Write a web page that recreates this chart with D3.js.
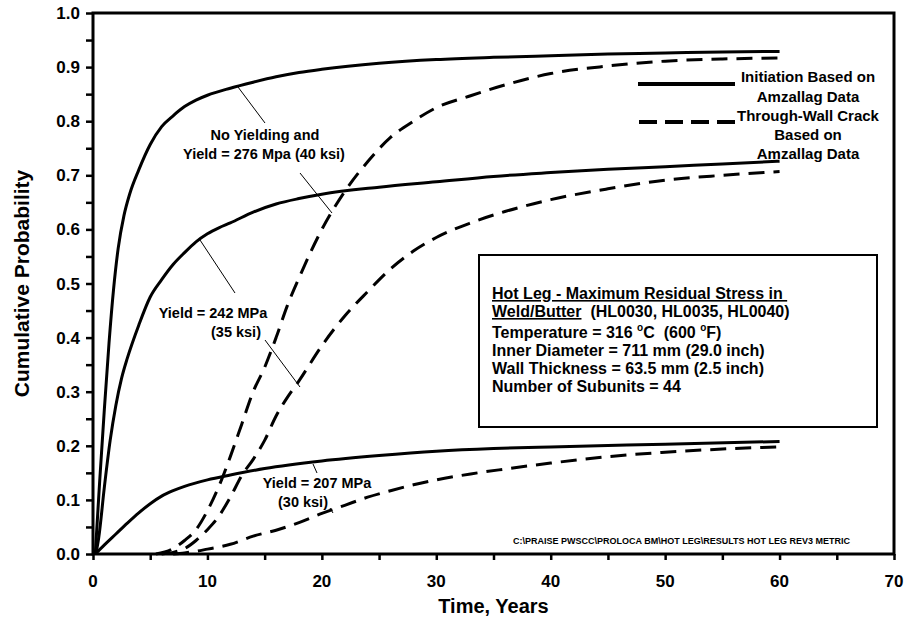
<!DOCTYPE html>
<html lang="en">
<head>
<meta charset="utf-8">
<title>Hot Leg - Cumulative Probability</title>
<style>
    body { margin: 0; background: #fff; }
    text { font-family: Arial, "Liberation Sans", sans-serif; font-weight: bold; fill: #000; }
    .label { font-size: 14.5px; }
    .legend { font-size: 15px; }
    .box { font-size: 16px; }
</style>
<script src="https://d3js.org/d3.v7.min.js"></script>
</head>
<body>
<svg width="904" height="628"></svg>
<script>
    // [years, cumulative probability]
    const initNoYield = [[0.2,0],[0.6,0.14],[1.0,0.27],[1.4,0.39],[1.8,0.49],[2.2,0.565],[2.7,0.625],[3.2,0.665],[4,0.71],[5,0.757],[6,0.79],[7,0.81],[8,0.827],[9,0.839],[10,0.848],[12,0.861],[14,0.872],[16,0.882],[18,0.89],[20,0.896],[25,0.907],[30,0.914],[35,0.918],[40,0.921],[45,0.924],[50,0.926],[55,0.928],[60,0.929]];
    const twcNoYield = [[5.5,0],[7,0.01],[8,0.025],[9,0.045],[10,0.08],[11,0.125],[12,0.18],[13,0.24],[14,0.3],[15,0.345],[16,0.4],[17,0.46],[18,0.51],[20,0.6],[22,0.67],[24,0.725],[26,0.77],[28,0.8],[30,0.825],[33,0.847],[36,0.867],[40,0.888],[45,0.902],[50,0.911],[55,0.915],[60,0.917]];
    const init242 = [[0.25,0],[0.5,0.03],[1,0.125],[1.5,0.21],[2,0.275],[2.5,0.325],[3,0.362],[4,0.423],[5,0.475],[6,0.507],[7,0.535],[8,0.557],[9,0.577],[10,0.592],[11,0.603],[12,0.612],[14,0.632],[16,0.647],[18,0.657],[20,0.665],[25,0.678],[30,0.688],[35,0.698],[40,0.705],[45,0.711],[50,0.716],[55,0.721],[60,0.726]];
    const twc242 = [[6,0],[7,0.003],[8,0.01],[9,0.025],[10,0.045],[11,0.07],[12,0.105],[13,0.145],[14,0.175],[15,0.21],[16,0.255],[17,0.29],[18,0.32],[20,0.385],[22,0.44],[24,0.485],[26,0.527],[28,0.56],[30,0.585],[33,0.612],[36,0.633],[40,0.655],[45,0.675],[50,0.691],[55,0.7],[60,0.707]];
    const init207 = [[0.2,0],[1,0.017],[2,0.037],[3,0.057],[4,0.076],[5,0.093],[6,0.107],[7,0.117],[8,0.125],[10,0.137],[12,0.146],[15,0.158],[20,0.172],[25,0.182],[30,0.19],[35,0.195],[40,0.198],[50,0.203],[60,0.208]];
    const twc207 = [[7,0],[8,0.002],[9,0.005],[10,0.009],[11,0.013],[12,0.018],[14,0.033],[16,0.044],[18,0.058],[20,0.075],[22,0.09],[24,0.105],[26,0.117],[28,0.128],[30,0.137],[33,0.148],[36,0.157],[40,0.168],[45,0.18],[50,0.188],[55,0.194],[60,0.198]];

    const xTicks = [0, 10, 20, 30, 40, 50, 60, 70];
    const yTicks = [0, 0.1, 0.2, 0.3, 0.4, 0.5, 0.6, 0.7, 0.8, 0.9, 1.0];
    const legendLabels = [["Initiation Based on", "Amzallag Data"], ["Through-Wall Crack", "Based on", "Amzallag Data"]];
    const boxLines = ["Inner Diameter = 711 mm (29.0 inch)", "Wall Thickness = 63.5 mm (2.5 inch)", "Number of Subunits = 44"];
    const fileNote = "C:\\PRAISE PWSCC\\PROLOCA BM\\HOT LEG\\RESULTS HOT LEG REV3 METRIC";

    let svg = d3.select("svg"),
        pLeft = 93, pRight = 894, pTop = 13, pBottom = 554;

    let x = d3.scaleLinear().domain([0, 70]).range([pLeft, pRight]),
        y = d3.scaleLinear().domain([0, 1]).range([pBottom, pTop]);

    // axes: minor ticks every 5 yrs / 0.05
    svg.append("g")
        .attr("transform", "translate(0," + pBottom + ")")
        .call(d3.axisBottom(x).tickValues(d3.range(0, 71, 5)).tickSize(6).tickFormat(""))
        .call(g => g.selectAll("line").attr("stroke-width", 2.5));
    svg.append("g")
        .selectAll("text").data(xTicks).join("text")
        .attr("x", d => x(d)).attr("y", 587)
        .attr("text-anchor", "middle")
        .style("font-size", "17px")
        .text(d => d);

    svg.append("g")
        .attr("transform", "translate(" + pLeft + ",0)")
        .call(d3.axisLeft(y).tickValues(d3.range(0, 1.001, 0.05)).tickSize(7).tickFormat(""))
        .call(g => g.selectAll("line").attr("stroke-width", 2.5));
    svg.append("g")
        .selectAll("text").data(yTicks).join("text")
        .attr("x", 80).attr("y", d => y(d) + 6)
        .attr("text-anchor", "end")
        .style("font-size", "17px")
        .text(d => d.toFixed(1));

    svg.selectAll(".domain").remove();
    svg.append("rect")
        .attr("x", pLeft).attr("y", pTop)
        .attr("width", pRight - pLeft).attr("height", pBottom - pTop)
        .attr("fill", "none").attr("stroke", "#000").attr("stroke-width", 3);

    // titles
    svg.append("text")
        .attr("x", (pLeft + pRight) / 2).attr("y", 613)
        .attr("text-anchor", "middle").style("font-size", "20px")
        .text("Time, Years");
    svg.append("text")
        .attr("transform", "translate(29," + (pTop + pBottom) / 2 + ") rotate(-90)")
        .attr("text-anchor", "middle").style("font-size", "21px")
        .text("Cumulative Probability");

    // curves
    let line = d3.line().x(d => x(d[0])).y(d => y(d[1])).curve(d3.curveMonotoneX);
    const series = [
        [initNoYield, null], [twcNoYield, "16,9"],
        [init242, null], [twc242, "16,9"],
        [init207, null], [twc207, "16,9"]
    ];
    svg.append("g").selectAll("path").data(series).join("path")
        .attr("d", d => line(d[0]))
        .attr("fill", "none")
        .attr("stroke", "#000")
        .attr("stroke-width", 3)
        .attr("stroke-dasharray", d => d[1]);

    // legend
    svg.append("line").attr("x1", 638).attr("x2", 735).attr("y1", 84).attr("y2", 84)
        .attr("stroke", "#000").attr("stroke-width", 4);
    svg.append("line").attr("x1", 639).attr("x2", 735).attr("y1", 122).attr("y2", 122)
        .attr("stroke", "#000").attr("stroke-width", 4).attr("stroke-dasharray", "18,8");
    let legendY = [[82, 102], [121, 140, 159]];
    legendLabels.forEach((lines, i) => {
        svg.append("g").selectAll("text").data(lines).join("text")
            .attr("class", "legend")
            .attr("x", 808).attr("y", (d, j) => legendY[i][j])
            .attr("text-anchor", "middle")
            .text(d => d);
    });

    // info box
    svg.append("rect").attr("x", 479).attr("y", 255).attr("width", 398).attr("height", 172)
        .attr("fill", "#fff").attr("stroke", "#000").attr("stroke-width", 2);
    svg.append("text").attr("class", "box").attr("x", 492).attr("y", 299)
        .style("text-decoration", "underline")
        .text("Hot Leg - Maximum Residual Stress in\u00a0");
    let t2 = svg.append("text").attr("class", "box").attr("x", 492).attr("y", 317);
    t2.append("tspan").style("text-decoration", "underline").text("Weld/Butter");
    t2.append("tspan").text("\u00a0\u00a0(HL0030, HL0035, HL0040)");
    let t3 = svg.append("text").attr("class", "box").attr("x", 492).attr("y", 338);
    t3.append("tspan").text("Temperature = 316 ");
    t3.append("tspan").attr("dy", -7).style("font-size", "10px").text("o");
    t3.append("tspan").attr("dy", 7).text("C\u00a0\u00a0(600 ");
    t3.append("tspan").attr("dy", -7).style("font-size", "10px").text("o");
    t3.append("tspan").attr("dy", 7).text("F)");
    svg.append("g").selectAll("text").data(boxLines).join("text")
        .attr("class", "box")
        .attr("x", 492).attr("y", (d, i) => 356 + i * 18)
        .text(d => d);

    // curve labels
    const labelText = [
        ["No Yielding and", 265, 140], ["Yield = 276 Mpa (40 ksi)", 264, 159],
        ["Yield = 242 MPa", 213, 318], ["(35 ksi)", 236, 337],
        ["Yield = 207 MPa", 317, 488], ["(30 ksi)", 303, 507]
    ];
    svg.append("g").selectAll("text").data(labelText).join("text")
        .attr("class", "label")
        .attr("x", d => d[1]).attr("y", d => d[2])
        .attr("text-anchor", "middle")
        .text(d => d[0]);

    const leaders = [
        [238, 87, 265, 123], [300, 173, 332, 213],
        [200, 240, 235, 293], [265, 340, 300, 387],
        [313, 464, 317, 473], [330, 508, 333, 513]
    ];
    svg.append("g").selectAll("line").data(leaders).join("line")
        .attr("x1", d => d[0]).attr("y1", d => d[1])
        .attr("x2", d => d[2]).attr("y2", d => d[3])
        .attr("stroke", "#000").attr("stroke-width", 1);

    svg.append("text")
        .attr("x", 850).attr("y", 544)
        .attr("text-anchor", "end")
        .style("font-size", "9px")
        .text(fileNote);
</script>
</body>
</html>
